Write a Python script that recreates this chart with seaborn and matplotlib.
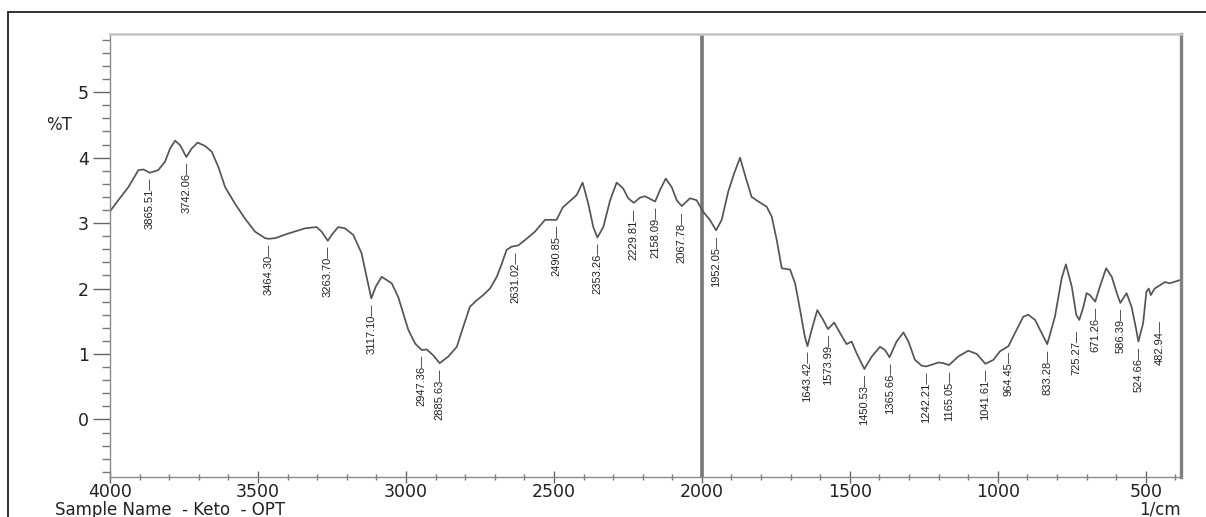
import numpy as np
import pandas as pd
import matplotlib
matplotlib.use("Agg")
import matplotlib.pyplot as plt
from matplotlib.ticker import MultipleLocator, FixedLocator
from matplotlib.patches import Rectangle
import seaborn as sns

# FTIR spectrum of the Keto sample (wavenumber in 1/cm, transmittance in %T)
wavenumber = [
    4000, 3972, 3938, 3904, 3887, 3865, 3837, 3814, 3797, 3780, 3763, 3742,
    3724, 3704, 3679, 3656, 3634, 3611, 3578, 3544, 3510, 3476, 3464, 3442,
    3398, 3341, 3302, 3285, 3264, 3251, 3229, 3206, 3178, 3150, 3133, 3117,
    3102, 3082, 3048, 3026, 3009, 2992, 2969, 2947, 2930, 2908, 2886, 2857,
    2828, 2806, 2784, 2761, 2739, 2716, 2693, 2676, 2660, 2643, 2631, 2620,
    2598, 2564, 2530, 2508, 2491, 2470, 2440, 2423, 2403, 2384, 2367, 2353,
    2333, 2310, 2288, 2266, 2249, 2230, 2209, 2192, 2175, 2158, 2140, 2122,
    2102, 2085, 2068, 2040, 2018, 1995, 1973, 1952, 1933, 1911, 1891, 1871,
    1854, 1832, 1809, 1781, 1764, 1747, 1730, 1702, 1685, 1668, 1652, 1643,
    1629, 1610, 1590, 1574, 1553, 1533, 1511, 1494, 1477, 1451, 1426, 1398,
    1381, 1366, 1342, 1319, 1302, 1280, 1257, 1242, 1220, 1201, 1184, 1165,
    1134, 1100, 1071, 1042, 1015, 993, 964, 942, 914, 897, 874, 852,
    833, 807, 784, 770, 750, 735, 725, 712, 700, 689, 671, 655,
    634, 615, 598, 586, 565, 548, 533, 525, 509, 498, 490, 483,
    470, 452, 435, 420, 405, 384,
]
transmittance = [
    3.18, 3.35, 3.55, 3.81, 3.82, 3.77, 3.81, 3.94, 4.14, 4.26, 4.19, 4.01,
    4.14, 4.23, 4.18, 4.09, 3.86, 3.55, 3.30, 3.07, 2.87, 2.77, 2.76, 2.77,
    2.84, 2.92, 2.94, 2.87, 2.73, 2.82, 2.94, 2.92, 2.82, 2.54, 2.18, 1.85,
    2.03, 2.18, 2.08, 1.87, 1.62, 1.37, 1.16, 1.06, 1.07, 0.98, 0.86, 0.96,
    1.11, 1.42, 1.72, 1.82, 1.90, 2.00, 2.18, 2.38, 2.59, 2.64, 2.65, 2.66,
    2.74, 2.87, 3.05, 3.05, 3.05, 3.24, 3.36, 3.43, 3.62, 3.30, 2.94, 2.78,
    2.94, 3.35, 3.62, 3.53, 3.38, 3.31, 3.39, 3.41, 3.37, 3.33, 3.52, 3.68,
    3.55, 3.35, 3.26, 3.38, 3.35, 3.17, 3.05, 2.89, 3.05, 3.48, 3.76, 4.00,
    3.73, 3.40, 3.33, 3.25, 3.10, 2.74, 2.31, 2.29, 2.08, 1.67, 1.26, 1.12,
    1.37, 1.67, 1.52, 1.38, 1.48, 1.32, 1.15, 1.19, 1.01, 0.77, 0.96, 1.11,
    1.06, 0.95, 1.19, 1.33, 1.19, 0.91, 0.82, 0.81, 0.84, 0.87, 0.86, 0.83,
    0.96, 1.05, 1.00, 0.85, 0.91, 1.04, 1.12, 1.32, 1.57, 1.60, 1.52, 1.32,
    1.15, 1.57, 2.16, 2.37, 2.03, 1.60, 1.52, 1.70, 1.93, 1.90, 1.80, 2.03,
    2.31, 2.18, 1.93, 1.78, 1.93, 1.72, 1.39, 1.19, 1.47, 1.95, 2.00, 1.90,
    2.00, 2.05, 2.10, 2.08, 2.10, 2.13,
]

# Picked absorption bands
peak_positions = [
    3865.51, 3742.06, 3464.30, 3263.70, 3117.10, 2947.36, 2885.63, 2631.02,
    2490.85, 2353.26, 2229.81, 2158.09, 2067.78, 1952.05, 1643.42, 1573.99,
    1450.53, 1365.66, 1242.21, 1165.05, 1041.61, 964.45, 833.28, 725.27,
    671.26, 586.39, 524.66, 482.94,
]

x_ticks = [4000, 3500, 3000, 2500, 2000, 1500, 1000, 500]
y_ticks = [0, 1, 2, 3, 4, 5]

sns.set_style("ticks")
plt.rcParams['font.family'] = ['DejaVu Sans']

W, H = 1206, 517
fig = plt.figure(figsize=(W / 100, H / 100), dpi=100)
ax = fig.add_axes([110 / W, 1 - 477 / H, 1071 / W, 443 / H])

spectrum = pd.DataFrame({"wavenumber": wavenumber, "T": transmittance})
sns.lineplot(data=spectrum, x="wavenumber", y="T", ax=ax, sort=False,
             estimator=None, color="#555555", linewidth=1.25)

ax.set_xlim(4000, 381)
ax.set_ylim(-0.88, 5.89)
ax.set_xlabel("")
ax.set_ylabel("")

# scale-change marker at 2000 1/cm
ax.axvline(2000, color="#777777", linewidth=2.6, zorder=1)

ax.xaxis.set_major_locator(FixedLocator(x_ticks))
ax.xaxis.set_minor_locator(MultipleLocator(100))
ax.yaxis.set_major_locator(FixedLocator(y_ticks))
ax.yaxis.set_minor_locator(MultipleLocator(0.2))
ax.set_xticklabels([str(v) for v in x_ticks])
ax.set_yticklabels([str(v) for v in y_ticks])

ax.tick_params(axis="both", which="both", bottom=True, left=True,
               top=False, right=False)
ax.tick_params(axis="x", which="major", direction="inout", length=9, width=1,
               color="#666666", pad=0, labelsize=12.5, labelcolor="#222222")
ax.tick_params(axis="x", which="minor", direction="inout", length=5, width=1,
               color="#777777")
ax.tick_params(axis="y", which="major", direction="out", length=12, width=1,
               color="#666666", pad=3, labelsize=12.5, labelcolor="#222222")
ax.tick_params(axis="y", which="minor", direction="out", length=6, width=1,
               color="#777777")

for side, col, lw in [("left", "#8a8a8a", 1.0), ("bottom", "#8a8a8a", 1.0),
                      ("top", "#c4c4c4", 1.8), ("right", "#808080", 2.4)]:
    ax.spines[side].set_color(col)
    ax.spines[side].set_linewidth(lw)
    ax.spines[side].set_visible(True)

# peak annotations hanging below each band
wn_asc = np.array(wavenumber[::-1], dtype=float)
t_asc = np.array(transmittance[::-1], dtype=float)
shift = {725.27: (8, -0.08), 482.94: (-30, -0.30)}
for p in peak_positions:
    dx, dy = shift.get(p, (0, 0))
    t_at = np.interp(p, wn_asc, t_asc)
    ax.text(p + dx, t_at - 0.08 + dy, f"{p:.2f}\u2014", rotation=90,
            ha="center", va="top", fontsize=8, color="#222222",
            family=["Liberation Sans", "DejaVu Sans"])

fig.text(46 / W, 1 - 125 / H, "%T", fontsize=12, color="#222222",
         ha="left", va="center")
fig.text(55 / W, 1 - 510 / H, "Sample Name  - Keto  - OPT", fontsize=12,
         color="#222222", ha="left", va="center")
fig.text(1181 / W, 1 - 510 / H, "1/cm", fontsize=12, color="#222222",
         ha="right", va="center")

# outer frame
fig.add_artist(Rectangle((8 / W, -0.05), 1.2, 1 - 12 / H + 0.05,
                         transform=fig.transFigure, fill=False,
                         edgecolor="#222222", linewidth=1.3))

fig.savefig("out.png", dpi=100)
